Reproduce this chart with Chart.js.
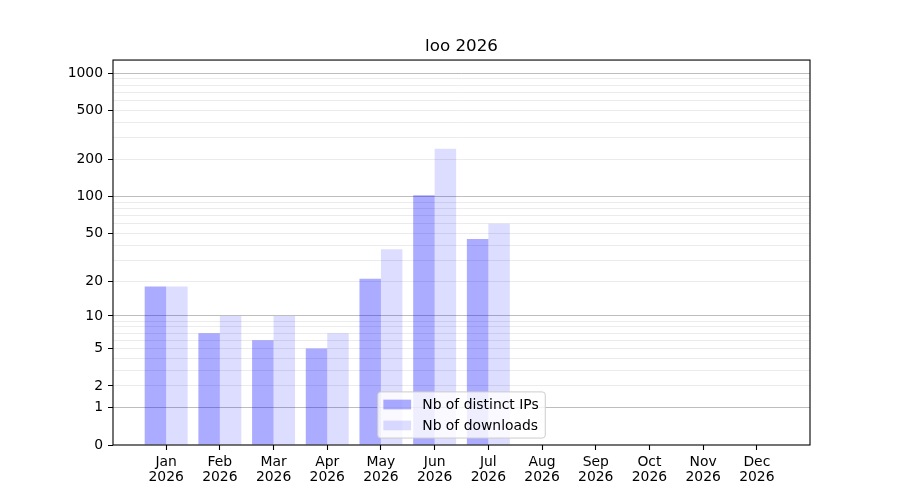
<!DOCTYPE html>
<html>
<head>
<meta charset="utf-8">
<script src="https://cdn.jsdelivr.net/npm/chart.js@4.4.1/dist/chart.umd.min.js"></script>
<style>
  html, body { margin: 0; padding: 0; background: #fff; }
</style>
</head>
<body>
<canvas id="myChart" width="900" height="500"></canvas>
<script>
const months = ["Jan", "Feb", "Mar", "Apr", "May", "Jun", "Jul", "Aug", "Sep", "Oct", "Nov", "Dec"];
const yearLabel = "2026";
const distinctIPs = [18, 7, 6, 5, 21, 103, 45, 0, 0, 0, 0, 0];
const downloads = [18, 10, 10, 7, 37, 245, 60, 0, 0, 0, 0, 0];
const yTickLabels = [0, 1, 2, 5, 10, 20, 50, 100, 200, 500, 1000];
const yMajor = [1, 10, 100, 1000];
const yGrid = [1, 2, 3, 4, 5, 6, 7, 8, 9, 10, 20, 30, 40, 50, 60, 70, 80, 90,
               100, 200, 300, 400, 500, 600, 700, 800, 900, 1000];
const yMax = 1280;

// y axis is log10(v + 1)
const tf = v => Math.log10(v + 1);
const untf = t => Math.round(Math.pow(10, t) - 1);

const FONT = 'DejaVu Sans';
Chart.defaults.font.family = FONT;
Chart.defaults.color = '#000';

const tickFont = { size: 13.9, family: FONT, lineHeight: 1.08 };

const frameAndLegend = {
    id: 'frameAndLegend',
    afterDraw(chart) {
        const ctx = chart.ctx;
        const a = chart.chartArea;
        ctx.save();
        ctx.strokeStyle = '#000';
        ctx.lineWidth = 1.1;
        ctx.strokeRect(a.left, a.top, a.right - a.left, a.bottom - a.top);

        // legend box, lower centre, like matplotlib
        const fs = 13.9;
        ctx.font = fs + 'px "' + FONT + '"';
        const sets = chart.data.datasets;
        const textW = Math.max(...sets.map(d => ctx.measureText(d.label).width));
        const pad = 5.6, handleW = 27.8, handleH = 9.7, gap = 11.1, rowH = 14, spacing = 6.95;
        const w = pad + handleW + gap + textW + pad + 1;
        const h = pad * 2 + rowH * sets.length + spacing * (sets.length - 1);
        const x0 = (a.left + a.right) / 2 - w / 2;
        const y0 = a.bottom - 6.95 - h;
        ctx.beginPath();
        ctx.roundRect(x0, y0, w, h, 3);
        ctx.fillStyle = 'rgba(255,255,255,0.8)';
        ctx.fill();
        ctx.strokeStyle = '#cccccc';
        ctx.lineWidth = 1;
        ctx.stroke();
        sets.forEach((d, i) => {
            const cy = y0 + pad + rowH / 2 + i * (rowH + spacing);
            ctx.fillStyle = d.backgroundColor;
            ctx.fillRect(x0 + pad, cy - handleH / 2, handleW, handleH);
            ctx.fillStyle = '#000';
            ctx.textBaseline = 'middle';
            ctx.textAlign = 'left';
            ctx.fillText(d.label, x0 + pad + handleW + gap, cy + 1);
        });
        ctx.restore();
    }
};

const ctx = document.getElementById('myChart').getContext('2d');
const myChart = new Chart(ctx, {
    type: 'bar',
    data: {
        datasets: [{
            label: 'Nb of distinct IPs',
            data: distinctIPs.map((v, i) => ({ x: i, y: tf(v) })),
            backgroundColor: 'rgba(0,0,255,0.33)',
            borderWidth: 0,
            categoryPercentage: 0.8,
            barPercentage: 1.0
        }, {
            label: 'Nb of downloads',
            data: downloads.map((v, i) => ({ x: i, y: tf(v) })),
            backgroundColor: 'rgba(0,0,255,0.135)',
            borderWidth: 0,
            categoryPercentage: 0.8,
            barPercentage: 1.0
        }]
    },
    options: {
        responsive: false,
        animation: false,
        devicePixelRatio: 1,
        layout: { padding: { left: 0, right: 90, top: 0, bottom: 0 } },
        plugins: {
            legend: { display: false },
            tooltip: { enabled: false },
            title: {
                display: true,
                text: 'loo 2026',
                fullSize: false,
                color: '#000',
                font: { size: 16.7, weight: 'normal', family: FONT, lineHeight: 1.2 },
                padding: { top: 37, bottom: 3 }
            }
        },
        scales: {
            x: {
                type: 'linear',
                min: -0.99,
                max: 11.99,
                offset: false,
                afterBuildTicks: s => { s.ticks = months.map((m, i) => ({ value: i })); },
                afterFit: s => { s.height = 55; },
                ticks: {
                    callback: v => [months[v], yearLabel],
                    autoSkip: false,
                    maxRotation: 0,
                    font: tickFont,
                    color: '#000',
                    padding: 5
                },
                grid: { offset: false, drawOnChartArea: false, drawTicks: true, tickLength: 5, tickColor: '#000', tickWidth: 1.1 },
                border: { display: false }
            },
            y: {
                type: 'linear',
                min: 0,
                max: tf(yMax),
                afterBuildTicks: s => { s.ticks = [0, ...yGrid].map(v => ({ value: tf(v) })); },
                afterFit: s => { s.width = 113; },
                ticks: {
                    callback: v => {
                        const raw = untf(v);
                        return yTickLabels.includes(raw) ? String(raw) : '';
                    },
                    autoSkip: false,
                    font: tickFont,
                    color: '#000',
                    padding: 5
                },
                grid: {
                    color: c => {
                        const raw = untf(c.tick.value);
                        if (raw === 0) return 'rgba(0,0,0,0)';
                        return yMajor.includes(raw) ? '#bdbdbd' : '#ebebeb';
                    },
                    tickColor: c => yTickLabels.includes(untf(c.tick.value)) ? '#000' : 'rgba(0,0,0,0)',
                    tickLength: 5,
                    lineWidth: 1
                },
                border: { display: false }
            }
        }
    },
    plugins: [frameAndLegend]
});
</script>
</body>
</html>
